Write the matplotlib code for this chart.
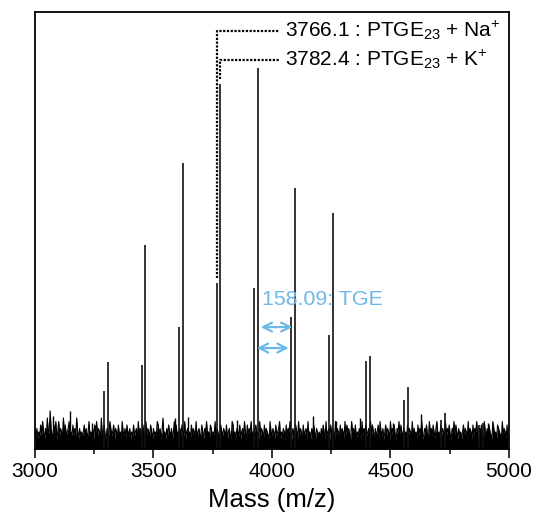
import numpy as np
import matplotlib
matplotlib.use("Agg")
import matplotlib.pyplot as plt

plt.rcParams["font.family"] = ["Liberation Sans", "DejaVu Sans"]
plt.rcParams["mathtext.fontset"] = "custom"
plt.rcParams["mathtext.rm"] = "Liberation Sans"
plt.rcParams["mathtext.it"] = "Liberation Sans:italic"

# ---- data (m/z, relative intensity in % of axis height) --------------------
K_MZ = [3308.1, 3466.2, 3624.3, 3782.4, 3940.5, 4098.6, 4256.7, 4414.8, 4572.9, 4731.0, 4889.1]
K_INT = [19.9, 46.7, 65.4, 83.5, 87.2, 59.7, 54.0, 21.3, 14.2, 8.2, 5.9]
NA_MZ = [3292.0, 3450.1, 3608.2, 3766.1, 3924.2, 4082.3, 4240.4, 4398.5, 4556.6, 4714.7, 4872.8]
NA_INT = [13.3, 19.2, 27.9, 38.0, 36.8, 30.2, 26.1, 20.1, 11.2, 6.6, 5.5]
MINOR_MZ = [3076, 3117, 3148, 3239, 3591, 3646, 3852, 4172, 4270, 4371, 4511, 4627, 4762, 4911]
MINOR_INT = [7.5, 6.4, 8.7, 6.0, 7.0, 7.3, 6.6, 7.5, 6.4, 7.1, 6.0, 8.1, 4.8, 6.0]

# baseline noise, one digit per 4 m/z from 3000 (read as levels, 0.8 % each)
NOISE_START, NOISE_STEP, NOISE_UNIT = 3000, 4, 0.8
NOISE_ROWS = [
    "32413252631427339422536136243172523461325242731423",
    "23524136232415362431723521432642351432523163241532",
    "41325234162432513624325314232652413723142532413625",
    "23142532613423152432613422531436231542326143215324",
    "32513421652314325134263152436231452316243152432163",
    "24315234613243152436214325316243152341623142531432",
    "31425316234152431624315243162534216342513243162435",
    "23416253142351632413524316243521436253142315243162",
    "42315243612435216342531462315243162435214362531423",
    "13524316243152436214352163241532164231543216243151",
]

LABELS = ["3766.1 : PTGE$_{23}$ + Na$^{+}$", "3782.4 : PTGE$_{23}$ + K$^{+}$"]
LABEL_PEAK = [(3766.1, 38.0), (3782.4, 83.5)]
LABEL_Y = [95.7, 89.1]
SPACING = "158.09: TGE"
C_BLUE = "#6cb8e6"

noise_lv = np.array([int(c) for row in NOISE_ROWS for c in row])
noise_mz = NOISE_START + NOISE_STEP * np.arange(len(noise_lv))
noise_int = 1.5 + noise_lv * NOISE_UNIT

fig = plt.figure(figsize=(5.34, 5.31), dpi=100)
ax = fig.add_axes([0.0655, 0.1544, 0.8876, 0.823])

# noise floor: jagged trace filled down to the axis
ax.fill_between(noise_mz, 0, noise_int, color="black", lw=0)
ax.plot(noise_mz, noise_int, color="black", lw=0.8)
ax.vlines(MINOR_MZ, 0, MINOR_INT, color="black", lw=1.0)
ax.vlines(NA_MZ, 0, NA_INT, color="#111111", lw=1.2)
ax.vlines(K_MZ, 0, K_INT, color="#111111", lw=1.2)

# dotted leaders + labels
dots = (0, (1, 0.7))
for (mz, h), y, txt in zip(LABEL_PEAK, LABEL_Y, LABELS):
    ax.plot([mz, mz, 4030], [h + 1.2, y, y], color="black", lw=1.6, linestyle=dots)
    ax.text(4055, y, txt, fontsize=15, va="center", ha="left")

# repeat-unit arrows
ax.annotate("", xy=(K_MZ[5], 27.9), xytext=(K_MZ[4], 27.9),
            arrowprops=dict(arrowstyle="<->", color=C_BLUE, lw=1.6, mutation_scale=16))
ax.annotate("", xy=(NA_MZ[5], 23.1), xytext=(NA_MZ[4], 23.1),
            arrowprops=dict(arrowstyle="<->", color=C_BLUE, lw=1.6, mutation_scale=16))
ax.text(3958, 34.1, SPACING, fontsize=15.4, color=C_BLUE, va="center", ha="left")

ax.set_xlim(3000, 5000)
ax.set_ylim(0, 100)
ax.set_xticks(np.arange(3000, 5001, 500))
ax.set_xticks(np.arange(3250, 5000, 500), minor=True)
ax.set_yticks([])
ax.tick_params(axis="x", which="major", length=6.5, width=1.1, labelsize=15, pad=3)
ax.tick_params(axis="x", which="minor", length=3.6, width=1.1)
for s in ax.spines.values():
    s.set_linewidth(1.3)
ax.set_xlabel("Mass (m/z)", fontsize=18.5, labelpad=5)

fig.savefig("out.png", dpi=100)
